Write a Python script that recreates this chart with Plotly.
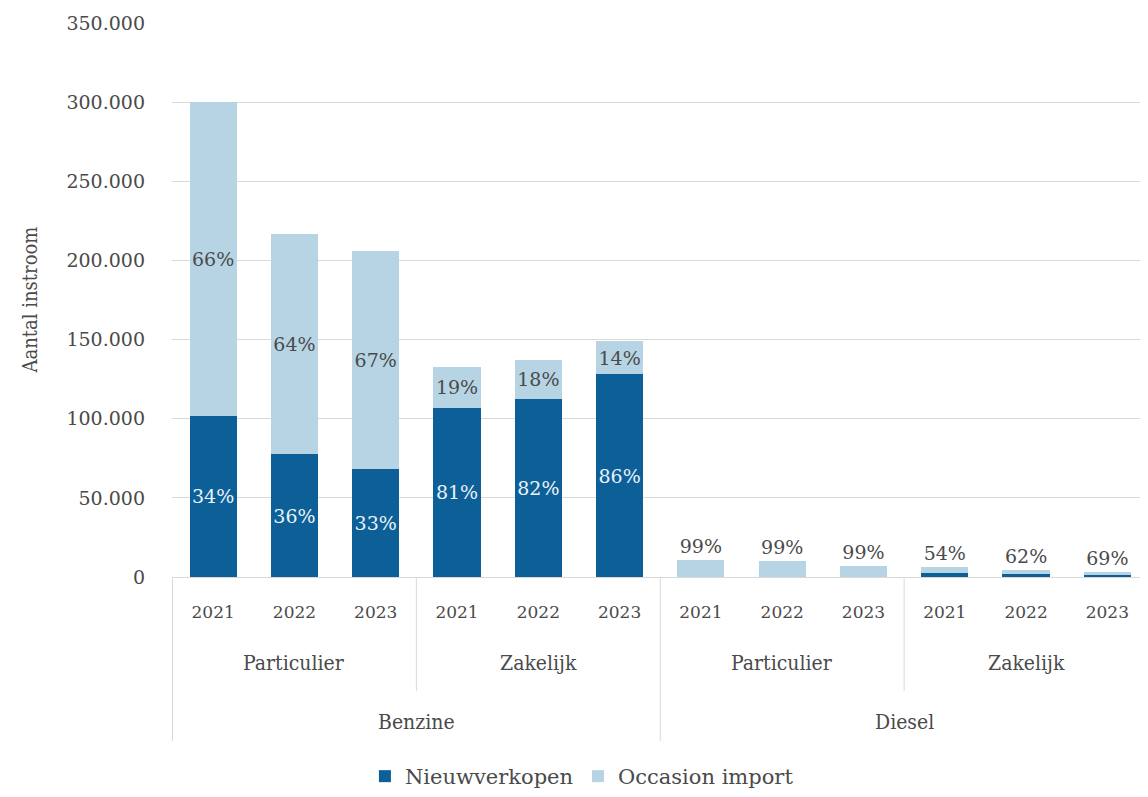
import plotly.graph_objects as go

# ---- data ----
fuels = ["Benzine", "Diesel"]
segments = ["Particulier", "Zakelijk"]
years = ["2021", "2022", "2023"]

categories = [f"{f}|{s}|{y}" for f in fuels for s in segments for y in years]

nieuwverkopen = [102000, 77500, 68000, 107000, 112500, 128000,
                 110, 100, 70, 2800, 1600, 1000]
occasion_import = [198000, 139000, 138000, 25500, 24700, 20800,
                   10600, 9900, 6900, 3300, 2600, 2200]

nieuw_labels = ["34%", "36%", "33%", "81%", "82%", "86%",
                "", "", "", "", "", ""]
occasion_labels = ["66%", "64%", "67%", "19%", "18%", "14%",
                   "99%", "99%", "99%", "54%", "62%", "69%"]
occasion_label_pos = ["inside"] * 6 + ["outside"] * 6

year_ticks = [y for f in fuels for s in segments for y in years]

# ---- style ----
DARK = "#0d5f98"
LIGHT = "#b6d4e4"
FONT = "DejaVu Serif"
CFONT = "DejaVu Serif Condensed, DejaVu Serif"
GREY_TXT = "#4a4a4a"

fig = go.Figure()
fig.add_trace(go.Bar(
    x=categories, y=nieuwverkopen, name="Nieuwverkopen",
    marker=dict(color=DARK, line=dict(width=0)),
    text=nieuw_labels, textposition="inside", insidetextanchor="middle",
    textangle=0,
    textfont=dict(family=FONT, size=19, color="#eaf3f8"),
    constraintext="none", hoverinfo="y",
))
fig.add_trace(go.Bar(
    x=categories, y=occasion_import, name="Occasion import",
    marker=dict(color=LIGHT, line=dict(width=0)),
    text=occasion_labels, textposition=occasion_label_pos, insidetextanchor="middle",
    textangle=0,
    textfont=dict(family=FONT, size=19, color=GREY_TXT),
    outsidetextfont=dict(family=FONT, size=19, color=GREY_TXT),
    constraintext="none", cliponaxis=False, hoverinfo="y",
))

n_years = len(years)
n_seg = len(segments)
annotations = []
shapes = []
for fi, f in enumerate(fuels):
    for si, s in enumerate(segments):
        start = (fi * n_seg + si) * n_years
        annotations.append(dict(
            x=start + (n_years - 1) / 2, y=-0.156, xref="x", yref="paper",
            text=s, showarrow=False, font=dict(family=CFONT, size=21, color=GREY_TXT),
            xanchor="center", yanchor="middle"))
    fstart = fi * n_seg * n_years
    annotations.append(dict(
        x=fstart + (n_seg * n_years - 1) / 2, y=-0.262, xref="x", yref="paper",
        text=f, showarrow=False, font=dict(family=CFONT, size=21, color=GREY_TXT),
        xanchor="center", yanchor="middle"))

# y-axis title
annotations.append(dict(
    x=-0.145, y=0.5, xref="paper", yref="paper", text="Aantal instroom",
    textangle=-90, showarrow=False, xanchor="center", yanchor="middle",
    font=dict(family=CFONT, size=20, color=GREY_TXT)))

LINE = dict(color="#d9d9d9", width=1)
for fi in range(len(fuels)):
    xb = fi * n_seg * n_years - 0.5
    shapes.append(dict(type="line", xref="x", yref="paper", x0=xb, x1=xb,
                       y0=0, y1=-0.296, line=LINE))
    for si in range(1, n_seg):
        xs = (fi * n_seg + si) * n_years - 0.5
        shapes.append(dict(type="line", xref="x", yref="paper", x0=xs, x1=xs,
                           y0=0, y1=-0.206, line=LINE))

fig.update_layout(
    width=1140, height=789,
    margin=dict(l=164, r=0, t=15, b=213),
    paper_bgcolor="white", plot_bgcolor="white",
    barmode="stack", bargap=0.42,
    separators=",.",
    font=dict(family=FONT, size=18, color=GREY_TXT),
    showlegend=True,
    legend=dict(orientation="h", x=0.42, xanchor="center", y=-0.361, yanchor="middle",
                font=dict(family=FONT, size=21, color=GREY_TXT), traceorder="normal",
                itemwidth=30),
    uniformtext=dict(minsize=18, mode="show"),
    annotations=annotations, shapes=shapes,
)
fig.update_xaxes(
    type="category", tickmode="array", tickvals=categories, ticktext=year_ticks,
    tickfont=dict(family=FONT, size=17, color=GREY_TXT),
    showline=True, linecolor="#d9d9d9", linewidth=1, showgrid=False,
    ticks="", ticklabelstandoff=20,
)
fig.update_yaxes(
    range=[0, 350000], dtick=50000, tickformat=",d",
    showgrid=True, gridcolor="#d9d9d9", gridwidth=1, zeroline=False,
    tickfont=dict(family=FONT, size=19, color=GREY_TXT),
    ticklabelstandoff=26,
)

fig.write_html("out.html")
